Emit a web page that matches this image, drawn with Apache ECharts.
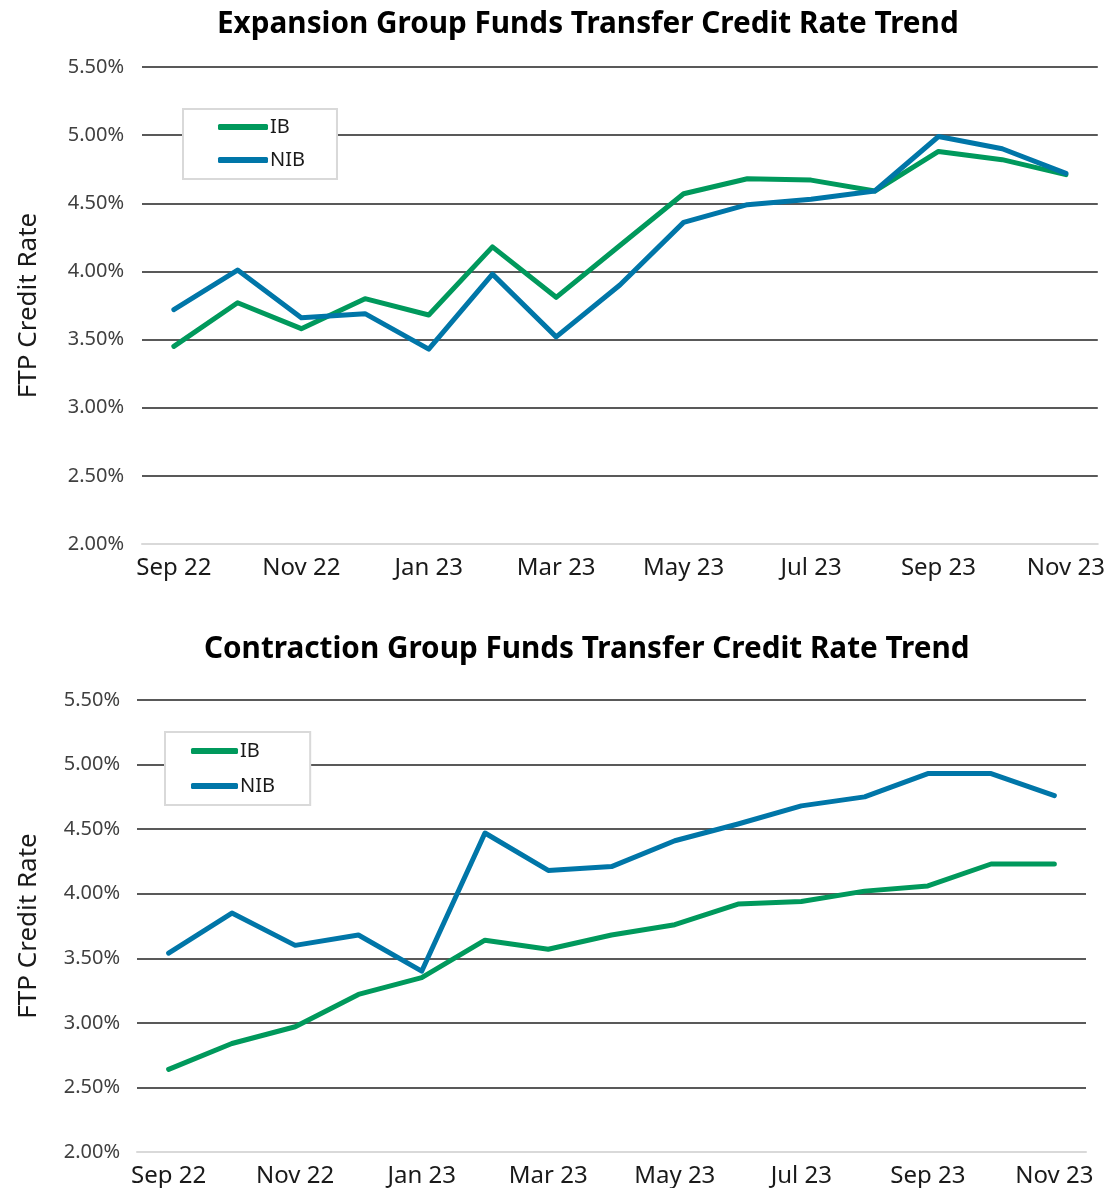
<!DOCTYPE html>
<html>
<head>
<meta charset="utf-8">
<script src="https://cdn.jsdelivr.net/npm/echarts@6/dist/echarts.min.js"></script>
<style>
  html, body { margin: 0; padding: 0; background: #fff; }
  #main { width: 1108px; height: 1188px; }
</style>
</head>
<body>
<div id="main"></div>
<script>
// months on the x axis
let months = ['Sep 22', 'Oct 22', 'Nov 22', 'Dec 22', 'Jan 23', 'Feb 23', 'Mar 23', 'Apr 23',
  'May 23', 'Jun 23', 'Jul 23', 'Aug 23', 'Sep 23', 'Oct 23', 'Nov 23'];
let yTicks = [2.0, 2.5, 3.0, 3.5, 4.0, 4.5, 5.0, 5.5];
// expansion group (top)
let expIB = [3.45, 3.77, 3.58, 3.80, 3.68, 4.18, 3.81, 4.19, 4.57, 4.68, 4.67, 4.59, 4.88, 4.82, 4.71];
let expNIB = [3.72, 4.01, 3.66, 3.69, 3.43, 3.98, 3.52, 3.90, 4.36, 4.49, 4.53, 4.59, 4.99, 4.90, 4.72];
// contraction group (bottom)
let conIB = [2.64, 2.84, 2.97, 3.22, 3.35, 3.64, 3.57, 3.68, 3.76, 3.92, 3.94, 4.02, 4.06, 4.23, 4.23];
let conNIB = [3.54, 3.85, 3.60, 3.68, 3.40, 4.47, 4.18, 4.21, 4.41, 4.54, 4.68, 4.75, 4.93, 4.93, 4.76];

let green = '#00995c';
let blue = '#0076a8';
let font = '"Noto Sans", "Open Sans", sans-serif';

function xAx(idx) {
  return {
    type: 'category',
    gridIndex: idx,
    data: months,
    boundaryGap: true,
    axisTick: { show: false },
    axisLine: { show: true, lineStyle: { color: '#d9d9d9', width: 2 } },
    axisLabel: { interval: 1, fontSize: 24, color: '#1a1a1a', fontFamily: font, margin: 12 }
  };
}
function yAx(idx, gap, margin) {
  return {
    type: 'value',
    gridIndex: idx,
    min: yTicks[0],
    max: yTicks[yTicks.length - 1],
    interval: 0.5,
    name: 'FTP Credit Rate',
    nameLocation: 'middle',
    nameGap: gap,
    nameTextStyle: { fontSize: 26, color: '#1a1a1a', fontFamily: font },
    axisLine: { show: false },
    axisTick: { show: false },
    axisLabel: { fontSize: 20, color: '#404040', fontFamily: font, margin: margin,
      formatter: function (v) { return v.toFixed(2) + '%'; } },
    splitLine: { show: true, showMinLine: false, lineStyle: { color: '#595959', width: 2 } }
  };
}
function line(name, data, color, idx) {
  return {
    name: name,
    type: 'line',
    xAxisIndex: idx,
    yAxisIndex: idx,
    data: data,
    symbol: 'none',
    lineStyle: { color: color, width: 5, cap: 'round', join: 'round' },
    itemStyle: { color: color },
    z: color === blue ? 3 : 2
  };
}
function legendBox(names, left, top, padding, gap, w, fs) {
  return {
    orient: 'vertical',
    left: left,
    top: top,
    data: names,
    icon: 'roundRect',
    itemWidth: w,
    itemHeight: 6,
    itemGap: gap,
    padding: padding,
    backgroundColor: '#fff',
    borderColor: '#d9d9d9',
    borderWidth: 2,
    borderRadius: 0,
    textStyle: { fontSize: fs, color: '#1a1a1a', fontFamily: font, padding: [0, 0, 0, -3] }
  };
}

let option = {
  backgroundColor: '#fff',
  animation: false,
  title: [
    { text: 'Expansion Group Funds Transfer Credit Rate Trend', left: 212, top: 5,
      textStyle: { fontSize: 29.7, fontWeight: 'bold', color: '#000', fontFamily: font } },
    { text: 'Contraction Group Funds Transfer Credit Rate Trend', left: 199, top: 630,
      textStyle: { fontSize: 29.7, fontWeight: 'bold', color: '#000', fontFamily: font } }
  ],
  grid: [
    { left: 142, right: 10, top: 67, height: 477 },
    { left: 137, right: 22, top: 700, height: 452 }
  ],
  legend: [
    legendBox(['IB', 'NIB'], 183, 109, [8, 32, 9, 35], 13, 50, 20),
    legendBox(['IB ', 'NIB '], 165, 732, [9, 30, 9, 26], 15, 47, 20)
  ],
  xAxis: [xAx(0), xAx(1)],
  yAxis: [yAx(0, 100, 18), yAx(1, 95, 17)],
  series: [
    line('IB', expIB, green, 0),
    line('NIB', expNIB, blue, 0),
    line('IB ', conIB, green, 1),
    line('NIB ', conNIB, blue, 1)
  ]
};

let myChart = echarts.init(document.getElementById('main'));
myChart.setOption(option);
</script>
</body>
</html>
